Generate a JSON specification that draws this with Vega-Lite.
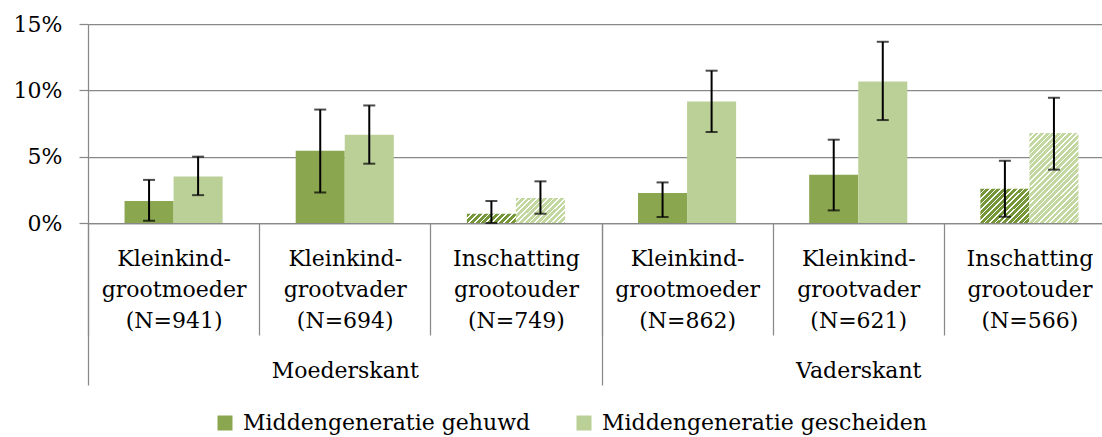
{
  "$schema": "https://vega.github.io/schema/vega-lite/v6.json",
  "width": 1014,
  "height": 199,
  "autosize": {"type": "none"},
  "padding": {"left": 88, "top": 24, "right": 0, "bottom": 214},
  "background": "white",
  "config": {"view": {"stroke": null}, "font": "DejaVu Serif"},
  "data": {
    "values": [
      {"side": "Moederskant", "cat": "Kleinkind-|grootmoeder|(N=941)", "series": "Middengeneratie gehuwd", "value": 0.0165, "lo": 0.0017, "hi": 0.0325},
      {"side": "Moederskant", "cat": "Kleinkind-|grootmoeder|(N=941)", "series": "Middengeneratie gescheiden", "value": 0.035, "lo": 0.021, "hi": 0.05},
      {"side": "Moederskant", "cat": "Kleinkind-|grootvader|(N=694)", "series": "Middengeneratie gehuwd", "value": 0.0545, "lo": 0.023, "hi": 0.0855},
      {"side": "Moederskant", "cat": "Kleinkind-|grootvader|(N=694)", "series": "Middengeneratie gescheiden", "value": 0.0665, "lo": 0.0447, "hi": 0.0886},
      {"side": "Moederskant", "cat": "Inschatting|grootouder|(N=749)", "series": "Middengeneratie gehuwd", "value": 0.007, "lo": 0.0, "hi": 0.0166},
      {"side": "Moederskant", "cat": "Inschatting|grootouder|(N=749)", "series": "Middengeneratie gescheiden", "value": 0.0188, "lo": 0.007, "hi": 0.0314},
      {"side": "Vaderskant", "cat": "Kleinkind-|grootmoeder|(N=862)", "series": "Middengeneratie gehuwd", "value": 0.0226, "lo": 0.0045, "hi": 0.0306},
      {"side": "Vaderskant", "cat": "Kleinkind-|grootmoeder|(N=862)", "series": "Middengeneratie gescheiden", "value": 0.0916, "lo": 0.0686, "hi": 0.1148},
      {"side": "Vaderskant", "cat": "Kleinkind-|grootvader|(N=621)", "series": "Middengeneratie gehuwd", "value": 0.0364, "lo": 0.0095, "hi": 0.0628},
      {"side": "Vaderskant", "cat": "Kleinkind-|grootvader|(N=621)", "series": "Middengeneratie gescheiden", "value": 0.1067, "lo": 0.0776, "hi": 0.1366},
      {"side": "Vaderskant", "cat": "Inschatting|grootouder|(N=566)", "series": "Middengeneratie gehuwd", "value": 0.0258, "lo": 0.0047, "hi": 0.0469},
      {"side": "Vaderskant", "cat": "Inschatting|grootouder|(N=566)", "series": "Middengeneratie gescheiden", "value": 0.0678, "lo": 0.0402, "hi": 0.0944}
    ]
  },
  "layer": [
    {
      "encoding": {
        "x": {
          "field": "cat", "type": "nominal",
          "sort": ["Kleinkind-|grootmoeder|(N=941)", "Kleinkind-|grootvader|(N=694)", "Inschatting|grootouder|(N=749)", "Kleinkind-|grootmoeder|(N=862)", "Kleinkind-|grootvader|(N=621)", "Inschatting|grootouder|(N=566)"],
          "scale": {"range": [0, 1027], "paddingInner": 0, "paddingOuter": 0},
          "axis": {
            "title": null, "orient": "bottom", "tickBand": "extent", "tickSize": 112, "tickColor": "#888888", "tickWidth": 1.25,
            "domainColor": "#888888", "domainWidth": 1.25, "grid": false,
            "labelExpr": "split(datum.label, '|')", "labelFontSize": 22, "labelLineHeight": 31, "labelBaseline": "alphabetic",
            "labelPadding": -70, "labelColor": "black", "labelAngle": 0, "labelOverlap": false, "labelLimit": 0
          }
        },
        "xOffset": {
          "field": "series", "type": "nominal",
          "sort": ["Middengeneratie gehuwd", "Middengeneratie gescheiden"],
          "scale": {"paddingInner": 0, "paddingOuter": 0.745}
        }
      },
      "layer": [
        {
          "mark": {"type": "bar"},
          "encoding": {
            "y": {
              "field": "value", "type": "quantitative", "scale": {"domain": [0, 0.15], "nice": false},
              "axis": {
                "title": null, "values": [0, 0.05, 0.1, 0.15], "format": ".0%", "grid": true, "gridColor": "#888888", "gridWidth": 1.25,
                "domainColor": "#888888", "domainWidth": 1.25, "tickColor": "#888888", "tickWidth": 1.25, "tickSize": 9,
                "labelFontSize": 22, "labelColor": "black", "labelPadding": 17
              }
            },
            "fill": {
              "condition": [
                {"test": "datum.cat === 'Inschatting|grootouder|(N=749)' && datum.series === 'Middengeneratie gehuwd'",
                 "value": {"gradient": "linear", "x1": 0, "y1": 0, "x2": 1.148, "y2": 0.218, "stops": [
                  {"offset": 0, "color": "#76963a"}, {"offset": 0.07, "color": "#76963a"}, {"offset": 0.07, "color": "#ffffff"}, {"offset": 0.1, "color": "#ffffff"},
                  {"offset": 0.1, "color": "#76963a"}, {"offset": 0.17, "color": "#76963a"}, {"offset": 0.17, "color": "#ffffff"}, {"offset": 0.2, "color": "#ffffff"},
                  {"offset": 0.2, "color": "#76963a"}, {"offset": 0.27, "color": "#76963a"}, {"offset": 0.27, "color": "#ffffff"}, {"offset": 0.3, "color": "#ffffff"},
                  {"offset": 0.3, "color": "#76963a"}, {"offset": 0.37, "color": "#76963a"}, {"offset": 0.37, "color": "#ffffff"}, {"offset": 0.4, "color": "#ffffff"},
                  {"offset": 0.4, "color": "#76963a"}, {"offset": 0.47, "color": "#76963a"}, {"offset": 0.47, "color": "#ffffff"}, {"offset": 0.5, "color": "#ffffff"},
                  {"offset": 0.5, "color": "#76963a"}, {"offset": 0.57, "color": "#76963a"}, {"offset": 0.57, "color": "#ffffff"}, {"offset": 0.6, "color": "#ffffff"},
                  {"offset": 0.6, "color": "#76963a"}, {"offset": 0.67, "color": "#76963a"}, {"offset": 0.67, "color": "#ffffff"}, {"offset": 0.7, "color": "#ffffff"},
                  {"offset": 0.7, "color": "#76963a"}, {"offset": 0.77, "color": "#76963a"}, {"offset": 0.77, "color": "#ffffff"}, {"offset": 0.8, "color": "#ffffff"},
                  {"offset": 0.8, "color": "#76963a"}, {"offset": 0.87, "color": "#76963a"}, {"offset": 0.87, "color": "#ffffff"}, {"offset": 0.9, "color": "#ffffff"},
                  {"offset": 0.9, "color": "#76963a"}, {"offset": 0.97, "color": "#76963a"}, {"offset": 0.97, "color": "#ffffff"}, {"offset": 1, "color": "#ffffff"}
                 ]}},
                {"test": "datum.cat === 'Inschatting|grootouder|(N=749)' && datum.series === 'Middengeneratie gescheiden'",
                 "value": {"gradient": "linear", "x1": 0, "y1": 0, "x2": 1.198, "y2": 0.616, "stops": [
                  {"offset": 0, "color": "#c3d7a0"}, {"offset": 0.0525, "color": "#c3d7a0"}, {"offset": 0.0525, "color": "#ffffff"}, {"offset": 0.075, "color": "#ffffff"},
                  {"offset": 0.075, "color": "#c3d7a0"}, {"offset": 0.1275, "color": "#c3d7a0"}, {"offset": 0.1275, "color": "#ffffff"}, {"offset": 0.15, "color": "#ffffff"},
                  {"offset": 0.15, "color": "#c3d7a0"}, {"offset": 0.2025, "color": "#c3d7a0"}, {"offset": 0.2025, "color": "#ffffff"}, {"offset": 0.225, "color": "#ffffff"},
                  {"offset": 0.225, "color": "#c3d7a0"}, {"offset": 0.2775, "color": "#c3d7a0"}, {"offset": 0.2775, "color": "#ffffff"}, {"offset": 0.3, "color": "#ffffff"},
                  {"offset": 0.3, "color": "#c3d7a0"}, {"offset": 0.3525, "color": "#c3d7a0"}, {"offset": 0.3525, "color": "#ffffff"}, {"offset": 0.375, "color": "#ffffff"},
                  {"offset": 0.375, "color": "#c3d7a0"}, {"offset": 0.4275, "color": "#c3d7a0"}, {"offset": 0.4275, "color": "#ffffff"}, {"offset": 0.45, "color": "#ffffff"},
                  {"offset": 0.45, "color": "#c3d7a0"}, {"offset": 0.5025, "color": "#c3d7a0"}, {"offset": 0.5025, "color": "#ffffff"}, {"offset": 0.525, "color": "#ffffff"},
                  {"offset": 0.525, "color": "#c3d7a0"}, {"offset": 0.5775, "color": "#c3d7a0"}, {"offset": 0.5775, "color": "#ffffff"}, {"offset": 0.6, "color": "#ffffff"},
                  {"offset": 0.6, "color": "#c3d7a0"}, {"offset": 0.6525, "color": "#c3d7a0"}, {"offset": 0.6525, "color": "#ffffff"}, {"offset": 0.675, "color": "#ffffff"},
                  {"offset": 0.675, "color": "#c3d7a0"}, {"offset": 0.7275, "color": "#c3d7a0"}, {"offset": 0.7275, "color": "#ffffff"}, {"offset": 0.75, "color": "#ffffff"},
                  {"offset": 0.75, "color": "#c3d7a0"}, {"offset": 0.8025, "color": "#c3d7a0"}, {"offset": 0.8025, "color": "#ffffff"}, {"offset": 0.825, "color": "#ffffff"},
                  {"offset": 0.825, "color": "#c3d7a0"}, {"offset": 0.8775, "color": "#c3d7a0"}, {"offset": 0.8775, "color": "#ffffff"}, {"offset": 0.9, "color": "#ffffff"},
                  {"offset": 0.9, "color": "#c3d7a0"}, {"offset": 0.9525, "color": "#c3d7a0"}, {"offset": 0.9525, "color": "#ffffff"}, {"offset": 0.975, "color": "#ffffff"},
                  {"offset": 0.975, "color": "#c3d7a0"}, {"offset": 1, "color": "#c3d7a0"}
                 ]}},
                {"test": "datum.cat === 'Inschatting|grootouder|(N=566)' && datum.series === 'Middengeneratie gehuwd'",
                 "value": {"gradient": "linear", "x1": 0, "y1": 0, "x2": 1.139, "y2": 0.802, "stops": [
                  {"offset": 0, "color": "#76963a"}, {"offset": 0.0467, "color": "#76963a"}, {"offset": 0.0467, "color": "#ffffff"}, {"offset": 0.0667, "color": "#ffffff"},
                  {"offset": 0.0667, "color": "#76963a"}, {"offset": 0.1133, "color": "#76963a"}, {"offset": 0.1133, "color": "#ffffff"}, {"offset": 0.1333, "color": "#ffffff"},
                  {"offset": 0.1333, "color": "#76963a"}, {"offset": 0.18, "color": "#76963a"}, {"offset": 0.18, "color": "#ffffff"}, {"offset": 0.2, "color": "#ffffff"},
                  {"offset": 0.2, "color": "#76963a"}, {"offset": 0.2467, "color": "#76963a"}, {"offset": 0.2467, "color": "#ffffff"}, {"offset": 0.2667, "color": "#ffffff"},
                  {"offset": 0.2667, "color": "#76963a"}, {"offset": 0.3133, "color": "#76963a"}, {"offset": 0.3133, "color": "#ffffff"}, {"offset": 0.3333, "color": "#ffffff"},
                  {"offset": 0.3333, "color": "#76963a"}, {"offset": 0.38, "color": "#76963a"}, {"offset": 0.38, "color": "#ffffff"}, {"offset": 0.4, "color": "#ffffff"},
                  {"offset": 0.4, "color": "#76963a"}, {"offset": 0.4467, "color": "#76963a"}, {"offset": 0.4467, "color": "#ffffff"}, {"offset": 0.4667, "color": "#ffffff"},
                  {"offset": 0.4667, "color": "#76963a"}, {"offset": 0.5133, "color": "#76963a"}, {"offset": 0.5133, "color": "#ffffff"}, {"offset": 0.5333, "color": "#ffffff"},
                  {"offset": 0.5333, "color": "#76963a"}, {"offset": 0.58, "color": "#76963a"}, {"offset": 0.58, "color": "#ffffff"}, {"offset": 0.6, "color": "#ffffff"},
                  {"offset": 0.6, "color": "#76963a"}, {"offset": 0.6467, "color": "#76963a"}, {"offset": 0.6467, "color": "#ffffff"}, {"offset": 0.6667, "color": "#ffffff"},
                  {"offset": 0.6667, "color": "#76963a"}, {"offset": 0.7133, "color": "#76963a"}, {"offset": 0.7133, "color": "#ffffff"}, {"offset": 0.7333, "color": "#ffffff"},
                  {"offset": 0.7333, "color": "#76963a"}, {"offset": 0.78, "color": "#76963a"}, {"offset": 0.78, "color": "#ffffff"}, {"offset": 0.8, "color": "#ffffff"},
                  {"offset": 0.8, "color": "#76963a"}, {"offset": 0.8467, "color": "#76963a"}, {"offset": 0.8467, "color": "#ffffff"}, {"offset": 0.8667, "color": "#ffffff"},
                  {"offset": 0.8667, "color": "#76963a"}, {"offset": 0.9133, "color": "#76963a"}, {"offset": 0.9133, "color": "#ffffff"}, {"offset": 0.9333, "color": "#ffffff"},
                  {"offset": 0.9333, "color": "#76963a"}, {"offset": 0.98, "color": "#76963a"}, {"offset": 0.98, "color": "#ffffff"}, {"offset": 1, "color": "#ffffff"}
                 ]}},
                {"test": "datum.cat === 'Inschatting|grootouder|(N=566)' && datum.series === 'Middengeneratie gescheiden'",
                 "value": {"gradient": "linear", "x1": 0, "y1": 0, "x2": 0.647, "y2": 1.192, "stops": [
                  {"offset": 0, "color": "#c3d7a0"}, {"offset": 0.028, "color": "#c3d7a0"}, {"offset": 0.028, "color": "#ffffff"}, {"offset": 0.04, "color": "#ffffff"},
                  {"offset": 0.04, "color": "#c3d7a0"}, {"offset": 0.068, "color": "#c3d7a0"}, {"offset": 0.068, "color": "#ffffff"}, {"offset": 0.08, "color": "#ffffff"},
                  {"offset": 0.08, "color": "#c3d7a0"}, {"offset": 0.108, "color": "#c3d7a0"}, {"offset": 0.108, "color": "#ffffff"}, {"offset": 0.12, "color": "#ffffff"},
                  {"offset": 0.12, "color": "#c3d7a0"}, {"offset": 0.148, "color": "#c3d7a0"}, {"offset": 0.148, "color": "#ffffff"}, {"offset": 0.16, "color": "#ffffff"},
                  {"offset": 0.16, "color": "#c3d7a0"}, {"offset": 0.188, "color": "#c3d7a0"}, {"offset": 0.188, "color": "#ffffff"}, {"offset": 0.2, "color": "#ffffff"},
                  {"offset": 0.2, "color": "#c3d7a0"}, {"offset": 0.228, "color": "#c3d7a0"}, {"offset": 0.228, "color": "#ffffff"}, {"offset": 0.24, "color": "#ffffff"},
                  {"offset": 0.24, "color": "#c3d7a0"}, {"offset": 0.268, "color": "#c3d7a0"}, {"offset": 0.268, "color": "#ffffff"}, {"offset": 0.28, "color": "#ffffff"},
                  {"offset": 0.28, "color": "#c3d7a0"}, {"offset": 0.308, "color": "#c3d7a0"}, {"offset": 0.308, "color": "#ffffff"}, {"offset": 0.32, "color": "#ffffff"},
                  {"offset": 0.32, "color": "#c3d7a0"}, {"offset": 0.348, "color": "#c3d7a0"}, {"offset": 0.348, "color": "#ffffff"}, {"offset": 0.36, "color": "#ffffff"},
                  {"offset": 0.36, "color": "#c3d7a0"}, {"offset": 0.388, "color": "#c3d7a0"}, {"offset": 0.388, "color": "#ffffff"}, {"offset": 0.4, "color": "#ffffff"},
                  {"offset": 0.4, "color": "#c3d7a0"}, {"offset": 0.428, "color": "#c3d7a0"}, {"offset": 0.428, "color": "#ffffff"}, {"offset": 0.44, "color": "#ffffff"},
                  {"offset": 0.44, "color": "#c3d7a0"}, {"offset": 0.468, "color": "#c3d7a0"}, {"offset": 0.468, "color": "#ffffff"}, {"offset": 0.48, "color": "#ffffff"},
                  {"offset": 0.48, "color": "#c3d7a0"}, {"offset": 0.508, "color": "#c3d7a0"}, {"offset": 0.508, "color": "#ffffff"}, {"offset": 0.52, "color": "#ffffff"},
                  {"offset": 0.52, "color": "#c3d7a0"}, {"offset": 0.548, "color": "#c3d7a0"}, {"offset": 0.548, "color": "#ffffff"}, {"offset": 0.56, "color": "#ffffff"},
                  {"offset": 0.56, "color": "#c3d7a0"}, {"offset": 0.588, "color": "#c3d7a0"}, {"offset": 0.588, "color": "#ffffff"}, {"offset": 0.6, "color": "#ffffff"},
                  {"offset": 0.6, "color": "#c3d7a0"}, {"offset": 0.628, "color": "#c3d7a0"}, {"offset": 0.628, "color": "#ffffff"}, {"offset": 0.64, "color": "#ffffff"},
                  {"offset": 0.64, "color": "#c3d7a0"}, {"offset": 0.668, "color": "#c3d7a0"}, {"offset": 0.668, "color": "#ffffff"}, {"offset": 0.68, "color": "#ffffff"},
                  {"offset": 0.68, "color": "#c3d7a0"}, {"offset": 0.708, "color": "#c3d7a0"}, {"offset": 0.708, "color": "#ffffff"}, {"offset": 0.72, "color": "#ffffff"},
                  {"offset": 0.72, "color": "#c3d7a0"}, {"offset": 0.748, "color": "#c3d7a0"}, {"offset": 0.748, "color": "#ffffff"}, {"offset": 0.76, "color": "#ffffff"},
                  {"offset": 0.76, "color": "#c3d7a0"}, {"offset": 0.788, "color": "#c3d7a0"}, {"offset": 0.788, "color": "#ffffff"}, {"offset": 0.8, "color": "#ffffff"},
                  {"offset": 0.8, "color": "#c3d7a0"}, {"offset": 0.828, "color": "#c3d7a0"}, {"offset": 0.828, "color": "#ffffff"}, {"offset": 0.84, "color": "#ffffff"},
                  {"offset": 0.84, "color": "#c3d7a0"}, {"offset": 0.868, "color": "#c3d7a0"}, {"offset": 0.868, "color": "#ffffff"}, {"offset": 0.88, "color": "#ffffff"},
                  {"offset": 0.88, "color": "#c3d7a0"}, {"offset": 0.908, "color": "#c3d7a0"}, {"offset": 0.908, "color": "#ffffff"}, {"offset": 0.92, "color": "#ffffff"},
                  {"offset": 0.92, "color": "#c3d7a0"}, {"offset": 0.948, "color": "#c3d7a0"}, {"offset": 0.948, "color": "#ffffff"}, {"offset": 0.96, "color": "#ffffff"},
                  {"offset": 0.96, "color": "#c3d7a0"}, {"offset": 0.988, "color": "#c3d7a0"}, {"offset": 0.988, "color": "#ffffff"}, {"offset": 1, "color": "#ffffff"}
                 ]}}
              ],
              "field": "series", "type": "nominal",
              "scale": {"domain": ["Middengeneratie gehuwd", "Middengeneratie gescheiden"], "range": ["#8aa64f", "#bbd097"]},
              "legend": {
                "title": null, "orient": "none", "legendX": 126, "legendY": 388, "direction": "horizontal",
                "symbolType": "square", "symbolSize": 225, "symbolStrokeWidth": 0, "labelFontSize": 22, "labelColor": "black",
                "labelOffset": 7, "columnPadding": 42, "padding": 0, "labelLimit": 0
              }
            }
          }
        },
        {
          "mark": {"type": "rule", "color": "black", "strokeWidth": 2},
          "encoding": {"y": {"field": "lo", "type": "quantitative", "axis": {"title": null}}, "y2": {"field": "hi"}}
        },
        {
          "mark": {"type": "tick", "color": "black", "thickness": 2, "size": 12},
          "encoding": {"y": {"field": "lo", "type": "quantitative", "axis": {"title": null}}}
        },
        {
          "mark": {"type": "tick", "color": "black", "thickness": 2, "size": 12},
          "encoding": {"y": {"field": "hi", "type": "quantitative", "axis": {"title": null}}}
        }
      ]
    },
    {
      "mark": {"type": "rule", "opacity": 0},
      "encoding": {
        "x": {
          "field": "side", "type": "nominal", "sort": ["Moederskant", "Vaderskant"],
          "scale": {"range": [0, 1027], "paddingInner": 0, "paddingOuter": 0},
          "axis": {
            "title": null, "orient": "bottom", "offset": 0, "tickBand": "extent", "tickSize": 162, "tickColor": "#888888", "tickWidth": 1.25,
            "domain": false, "grid": false, "labelFontSize": 22, "labelBaseline": "alphabetic", "labelPadding": -8,
            "labelColor": "black", "labelAngle": 0
          }
        }
      }
    }
  ],
  "resolve": {"scale": {"x": "independent"}, "axis": {"x": "independent"}}
}
